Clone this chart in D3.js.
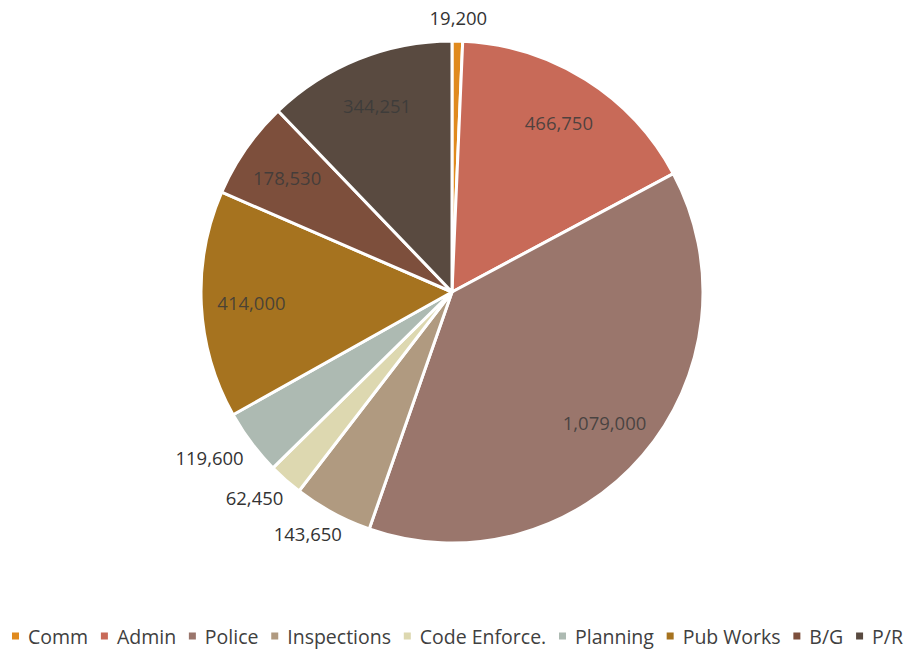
<!DOCTYPE html>
<html>
<head>
<meta charset="utf-8">
<script src="https://cdn.jsdelivr.net/npm/d3@7"></script>
<style>
  html, body { margin: 0; padding: 0; background: #fff; }
  svg { display: block; }
</style>
</head>
<body>
<svg id="chart" width="906" height="650"></svg>
<script>
// ---- Data ----
const categories = ["Comm", "Admin", "Police", "Inspections", "Code Enforce.", "Planning", "Pub Works", "B/G", "P/R"];
const values = [19200, 466750, 1079000, 143650, 62450, 119600, 414000, 178530, 344251];
const valueLabels = ["19,200", "466,750", "1,079,000", "143,650", "62,450", "119,600", "414,000", "178,530", "344,251"];
const labelInside = [false, true, true, false, false, false, true, true, true];
const colors = ["#e08a1e", "#c86a58", "#9a766c", "#b09a80", "#ddd8b0", "#adbab2", "#a6731f", "#7d4f3c", "#594a40"];

// ---- Layout ----
const W = 906, H = 650;
const cx = 452, cy = 292, R = 251;
const fontFamily = "'Open Sans', 'Noto Sans', sans-serif";

const svg = d3.select("#chart");
const g = svg.append("g").attr("transform", `translate(${cx},${cy})`);

const pie = d3.pie().sort(null).value(d => d.value);
const data = categories.map((c, i) => ({ name: c, value: values[i], label: valueLabels[i], inside: labelInside[i], color: colors[i] }));
const arcs = pie(data);
const arc = d3.arc().innerRadius(0).outerRadius(R);

g.selectAll("path.slice")
  .data(arcs)
  .join("path")
  .attr("class", "slice")
  .attr("d", arc)
  .attr("fill", d => d.data.color)
  .attr("stroke", "#fff")
  .attr("stroke-width", 3)
  .attr("stroke-linejoin", "round");

// Inside labels
const inLabelArc = d3.arc().innerRadius(R * 0.8).outerRadius(R * 0.8);
g.selectAll("text.in")
  .data(arcs.filter(d => d.data.inside))
  .join("text")
  .attr("class", "in")
  .attr("transform", d => {
    const [x, y] = inLabelArc.centroid(d);
    return `translate(${x},${y})`;
  })
  .attr("text-anchor", "middle")
  .attr("dominant-baseline", "central")
  .attr("font-family", fontFamily)
  .attr("font-size", 18.5)
  .attr("fill", "#3a3a3a")
  .attr("fill-opacity", 0.85)
  .text(d => d.data.label);

// Outside labels
const outPad = 18;
const outTexts = g.selectAll("text.out")
  .data(arcs.filter(d => !d.data.inside))
  .join("text")
  .attr("class", "out")
  .attr("text-anchor", "middle")
  .attr("dominant-baseline", "central")
  .attr("font-family", fontFamily)
  .attr("font-size", 18.5)
  .attr("fill", "#333")
  .text(d => d.data.label);

outTexts.each(function(d) {
  const a = (d.startAngle + d.endAngle) / 2;
  const w = this.getComputedTextLength();
  const h = 12;
  const px = Math.sin(a) * (R + outPad);
  const py = -Math.cos(a) * (R + outPad);
  const x = px + Math.sin(a) * w / 2;
  const y = py - Math.cos(a) * h / 2;
  d3.select(this).attr("x", x).attr("y", y);
});

// Legend
const legendY = 636;
const legend = svg.append("g");
const sq = 7, gapMarkerText = 9;
const items = legend.selectAll("g.item")
  .data(data)
  .join("g")
  .attr("class", "item");

items.append("rect")
  .attr("width", sq).attr("height", sq)
  .attr("y", legendY - sq / 2)
  .attr("fill", d => d.color);

items.append("text")
  .attr("y", legendY)
  .attr("dominant-baseline", "central")
  .attr("font-family", fontFamily)
  .attr("font-size", 19.5)
  .attr("fill", "#404040")
  .text(d => d.name);

// spread legend over the measured span of the reference (x 12 .. 903)
const left = 12, right = 903;
const widths = [];
items.each(function() { widths.push(d3.select(this).select("text").node().getComputedTextLength()); });
const contentW = d3.sum(widths) + data.length * (sq + gapMarkerText);
const gapItems = (right - left - contentW) / (data.length - 1);
let xPos = left;
items.each(function(d, i) {
  d3.select(this).select("rect").attr("x", xPos);
  d3.select(this).select("text").attr("x", xPos + sq + gapMarkerText);
  xPos += sq + gapMarkerText + widths[i] + gapItems;
});
</script>
</body>
</html>
